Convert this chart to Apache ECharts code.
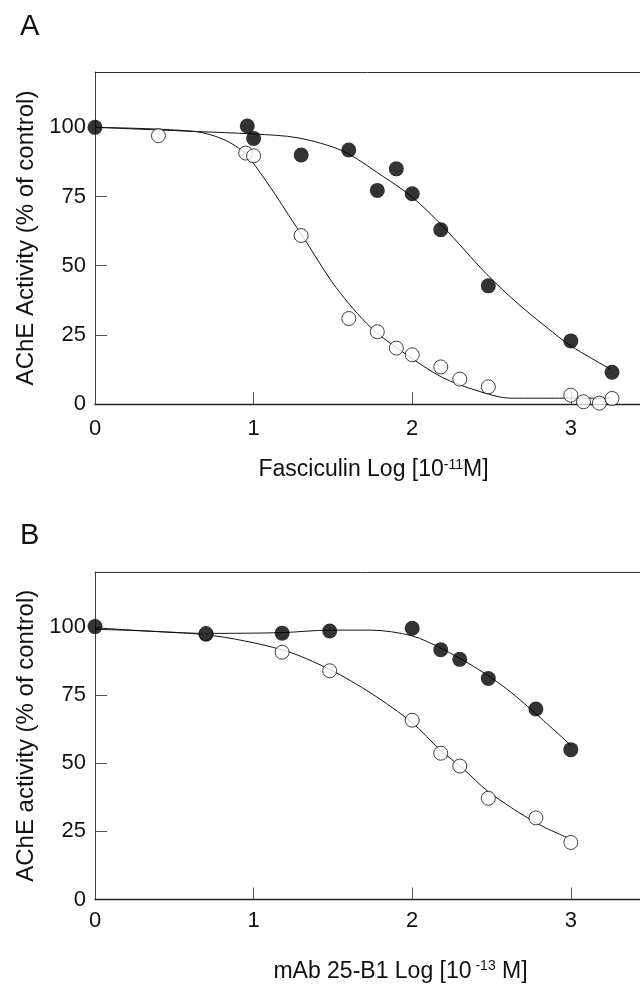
<!DOCTYPE html>
<html>
<head>
<meta charset="utf-8">
<script src="https://cdn.jsdelivr.net/npm/echarts@6/dist/echarts.min.js"></script>
<style>
html,body{margin:0;padding:0;background:#fff;}
#c{width:640px;height:984px;}
</style>
</head>
<body>
<div id="c"></div>
<script>
// ---------- Panel A: Fasciculin ----------
const aFilledX = [0, 0.96, 1.0, 1.3, 1.6, 1.78, 1.9, 2.0, 2.18, 2.48, 3.0, 3.26];
const aFilledY = [100, 100.5, 96, 90, 91.8, 77.2, 85, 76, 63, 42.7, 22.8, 11.5];
const aOpenX = [0.4, 0.95, 1.0, 1.3, 1.6, 1.78, 1.9, 2.0, 2.18, 2.3, 2.48, 3.0, 3.08, 3.18, 3.26];
const aOpenY = [97, 90.7, 89.7, 60.9, 30.9, 26.1, 20.2, 17.8, 13.4, 9.0, 6.2, 3.2, 0.8, 0.3, 2.0];
const aFitFilledX = [0, 0.63, 1.0, 1.28, 1.56, 1.81, 2.0, 2.19, 2.47, 2.67, 2.85, 3.0, 3.25];
const aFitFilledY = [100, 98.5, 97.6, 96.2, 91.5, 82.5, 74.8, 64.4, 46.9, 36.1, 27.6, 21.0, 12.6];
const aFitOpenX = [0, 0.63, 0.83, 0.97, 1.3, 1.52, 1.74, 1.96, 2.19, 2.41, 2.62, 3.25];
const aFitOpenY = [100, 98.5, 95.1, 89.1, 61.4, 42.1, 27.6, 18.0, 9.6, 4.8, 2.1, 2.1];

// ---------- Panel B: mAb 25-B1 ----------
const bFilledX = [0, 0.7, 1.18, 1.48, 2.0, 2.18, 2.3, 2.48, 2.78, 3.0];
const bFilledY = [100, 97.2, 97.6, 98.4, 99.4, 91.5, 88.0, 81.0, 69.8, 54.9];
const bOpenX = [0.7, 1.18, 1.48, 2.0, 2.18, 2.3, 2.48, 2.78, 3.0];
const bOpenY = [97.5, 90.6, 83.8, 65.7, 53.6, 48.9, 37.1, 29.9, 20.9];
const bFitFilledX = [0, 0.7, 1.18, 1.48, 1.74, 2.0, 2.19, 2.41, 2.63, 3.0];
const bFitFilledY = [99.6, 97.5, 97.8, 98.7, 98.7, 96.6, 91.8, 84.6, 75.6, 56.5];
const bFitOpenX = [0, 0.7, 1.18, 1.48, 1.74, 2.0, 2.18, 2.32, 2.48, 2.78, 3.0];
const bFitOpenY = [99.0, 97.0, 91.5, 84.3, 75.6, 64.8, 54.6, 48.0, 39.5, 28.1, 22.1];

const xLabels = [0, 1, 2, 3];
const xTickMarks = [1, 2, 3];
const yLabels = [0, 25, 50, 75, 100];
const yTickMarks = [25, 50, 75];

const zip = (xs, ys) => xs.map((x, i) => [x, ys[i]]);
const FONT = 'Liberation Sans, Arial, sans-serif';
const XMAX = 545 / 158.6;

const panels = [
  {top: 72, height: 332, yName: 'AChE Activity (% of control)',
   xName: '{a|Fasciculin Log [10}{s|-11}{a|M]}', xPadLeft: 12, nameGap: 54, labelMargin: 14,
   filled: zip(aFilledX, aFilledY), open: zip(aOpenX, aOpenY),
   fitF: zip(aFitFilledX, aFitFilledY), fitO: zip(aFitOpenX, aFitOpenY)},
  {top: 572, height: 334, yName: 'AChE activity (% of control)',
   xName: '{a|mAb 25-B1 Log [10}{s| -13}{a| M]}', xPadLeft: 66, nameGap: 60, labelMargin: 10,
   filled: zip(bFilledX, bFilledY), open: zip(bOpenX, bOpenY),
   fitF: zip(bFitFilledX, bFitFilledY), fitO: zip(bFitOpenX, bFitOpenY)}
];

const grid = [], xAxis = [], yAxis = [], series = [];
panels.forEach((p, i) => {
  grid.push({left: 95, right: 0, top: p.top, height: p.height, containLabel: false});
  xAxis.push({
    type: 'value', gridIndex: i, min: 0, max: XMAX, interval: 1,
    name: p.xName, nameLocation: 'middle', nameGap: p.nameGap,
    nameTextStyle: {padding: [0, 0, 0, p.xPadLeft],
                    rich: {a: {fontFamily: FONT, fontSize: 23, color: '#111'},
                           s: {fontFamily: FONT, fontSize: 14, color: '#111', verticalAlign: 'top', padding: [0, 0, 10, 0]}}},
    axisLine: {lineStyle: {color: '#222', width: 1.3}},
    axisTick: {inside: true, length: 12, customValues: xTickMarks, lineStyle: {color: '#555'}},
    axisLabel: {fontFamily: FONT, fontSize: 22, color: '#111', margin: p.labelMargin, customValues: xLabels,
                formatter: v => xLabels.includes(v) ? String(v) : ''},
    splitLine: {show: false}
  });
  xAxis.push({
    type: 'value', gridIndex: i, min: 0, max: XMAX, position: 'top',
    axisLine: {lineStyle: {color: '#333', width: 1}}, axisTick: {show: false},
    axisLabel: {show: false}, splitLine: {show: false}
  });
  yAxis.push({
    type: 'value', gridIndex: i, min: 0, max: 120, interval: 25,
    name: p.yName, nameLocation: 'middle', nameGap: 55,
    nameTextStyle: {fontFamily: FONT, fontSize: 24, color: '#111'},
    axisLine: {lineStyle: {color: '#444', width: 1}},
    axisTick: {inside: true, length: 12, customValues: yTickMarks, lineStyle: {color: '#555'}},
    axisLabel: {fontFamily: FONT, fontSize: 22, color: '#111', margin: 9, customValues: yLabels,
                formatter: v => yLabels.includes(v) ? String(v) : ''},
    splitLine: {show: false}
  });
  const xi = i * 2;
  series.push({type: 'line', xAxisIndex: xi, yAxisIndex: i, data: p.fitO, smooth: 0.3, showSymbol: false,
               lineStyle: {color: '#111', width: 1}, silent: true, animation: false, z: 2});
  series.push({type: 'line', xAxisIndex: xi, yAxisIndex: i, data: p.fitF, smooth: 0.3, showSymbol: false,
               lineStyle: {color: '#111', width: 1}, silent: true, animation: false, z: 2});
  series.push({type: 'scatter', xAxisIndex: xi, yAxisIndex: i, data: p.open, symbol: 'circle', symbolSize: 14,
               itemStyle: {color: '#fff', borderColor: '#111', borderWidth: 1}, animation: false, z: 3});
  series.push({type: 'scatter', xAxisIndex: xi, yAxisIndex: i, data: p.filled, symbol: 'circle', symbolSize: 15,
               itemStyle: {color: '#000'}, animation: false, z: 4});
});

const chart = echarts.init(document.getElementById('c'), null, {renderer: 'canvas'});
chart.setOption({
  backgroundColor: '#fff',
  animation: false,
  title: [
    {text: 'A', left: 15, top: 7, textStyle: {fontFamily: FONT, fontSize: 29, fontWeight: 'normal', color: '#111'}},
    {text: 'B', left: 15, top: 516, textStyle: {fontFamily: FONT, fontSize: 29, fontWeight: 'normal', color: '#111'}}
  ],
  grid, xAxis, yAxis, series
});
</script>
</body>
</html>
